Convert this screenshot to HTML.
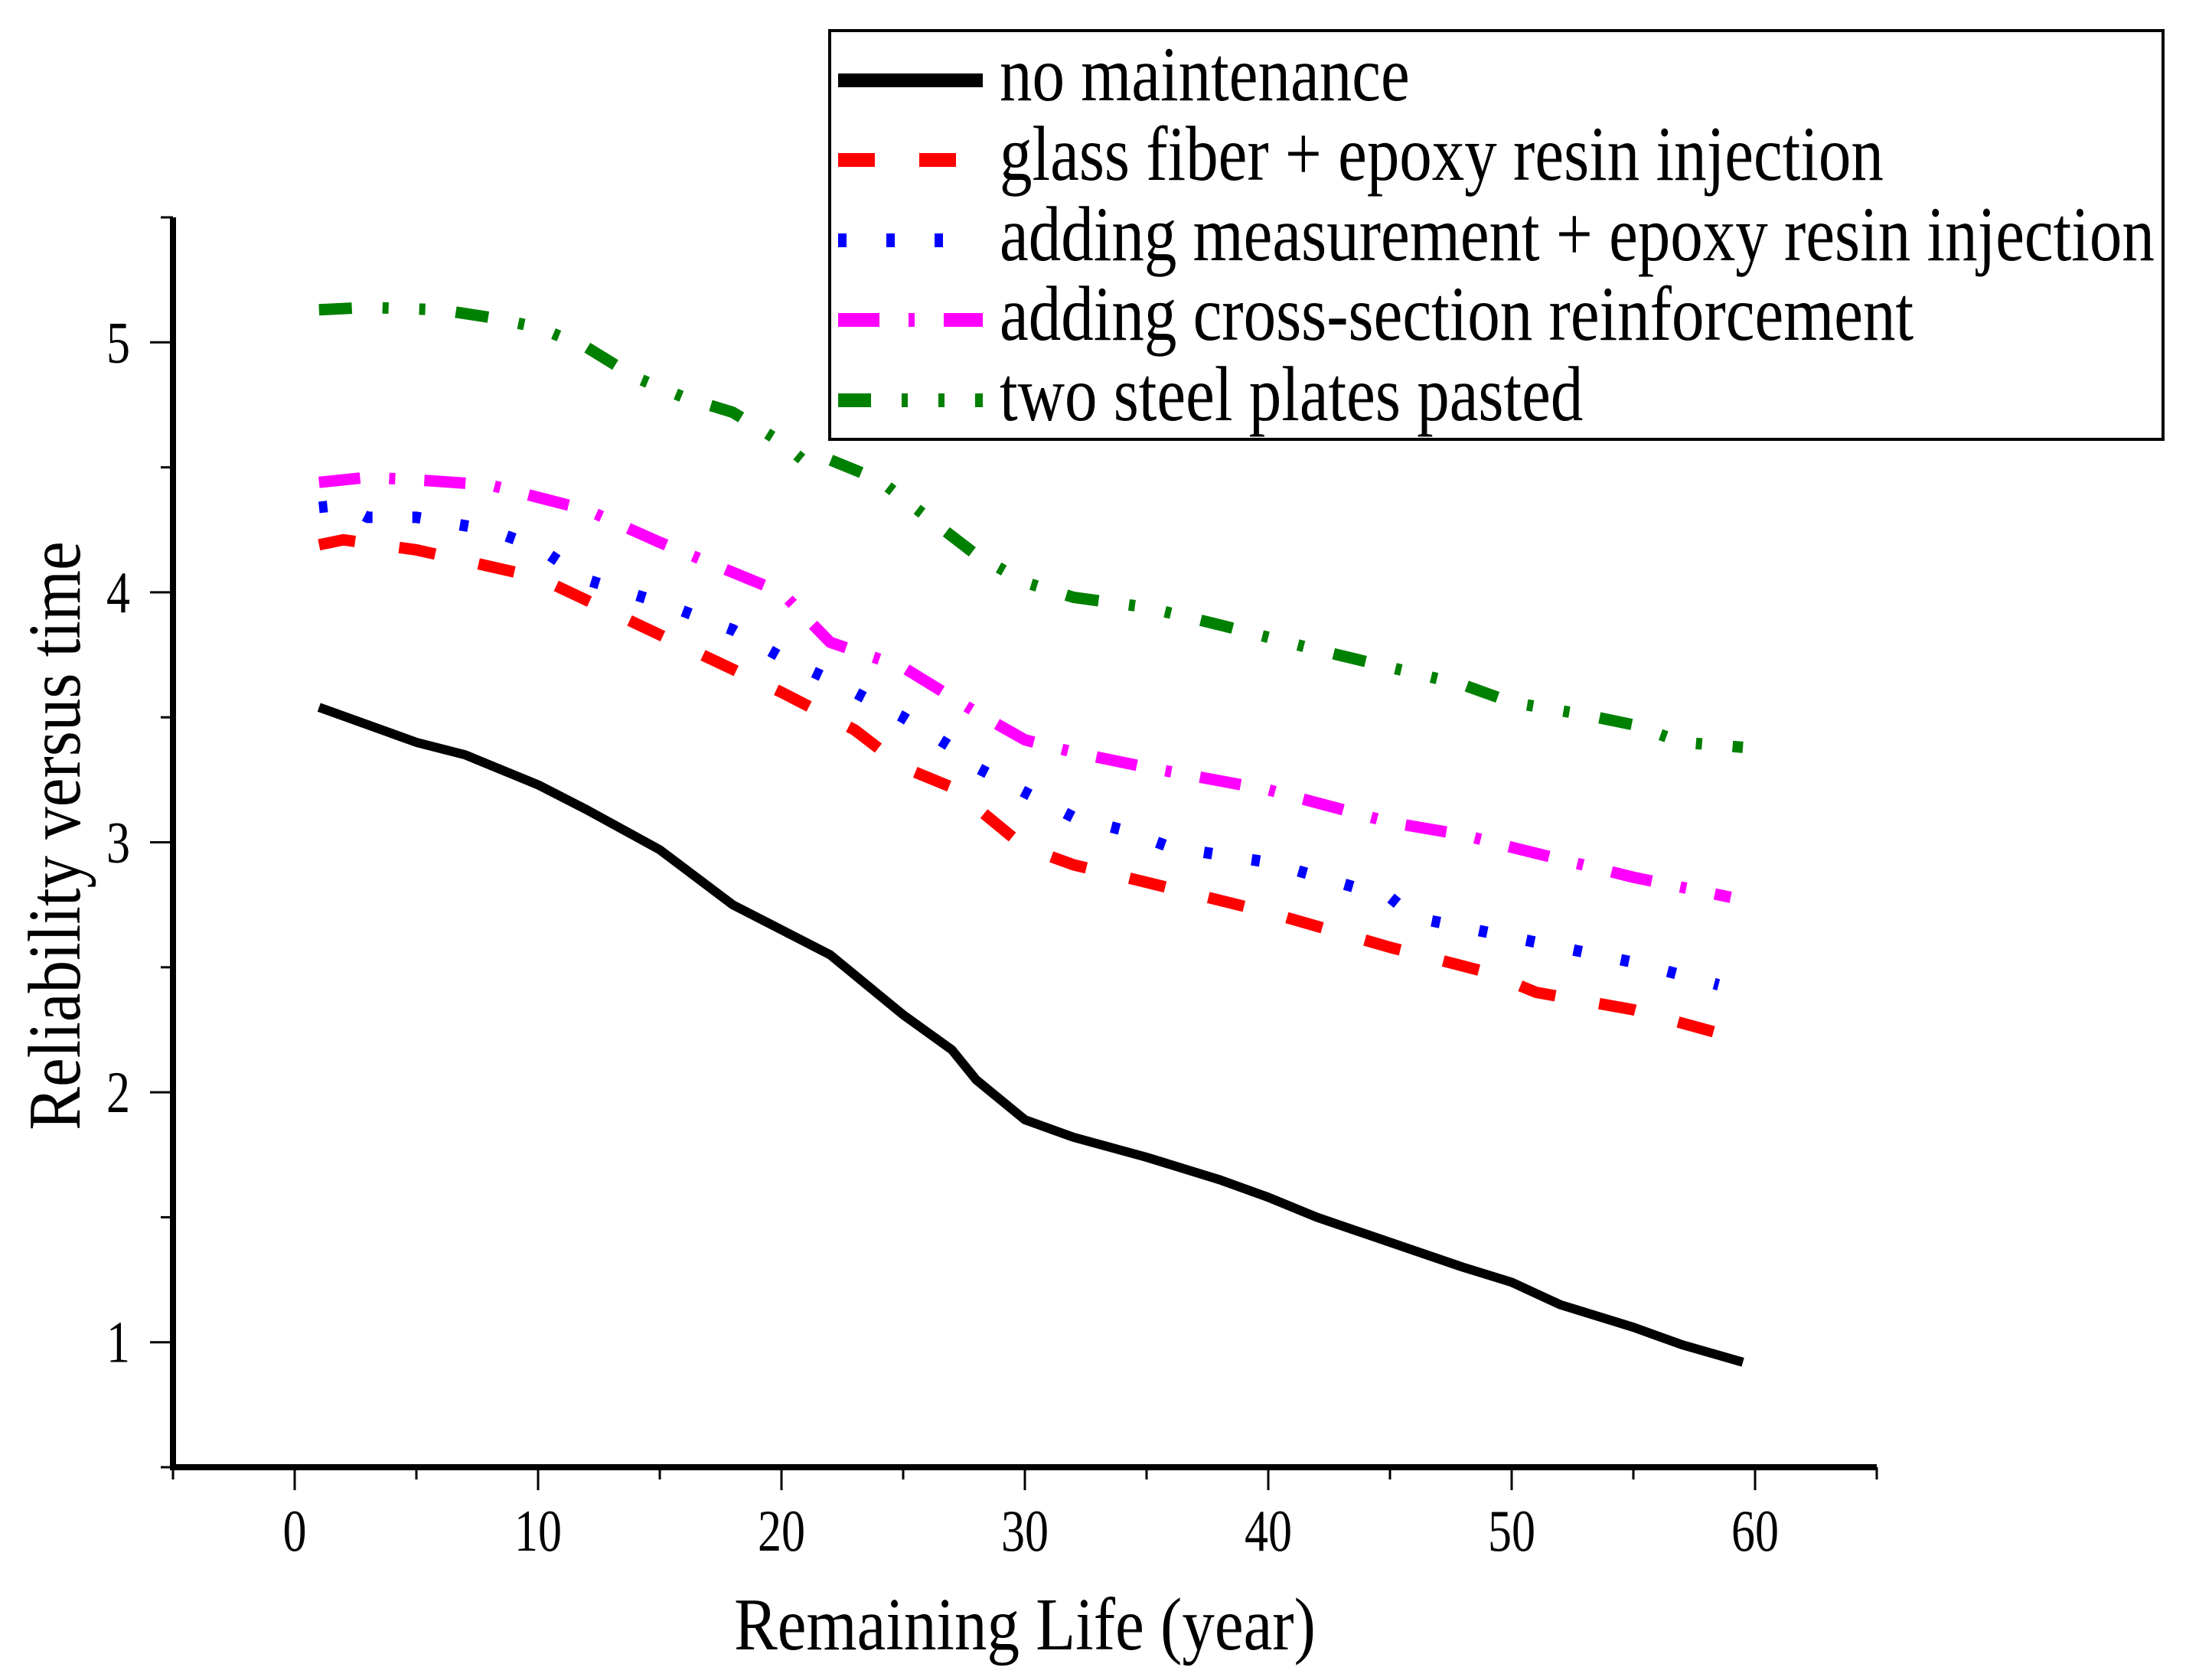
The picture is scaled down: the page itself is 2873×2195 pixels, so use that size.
<!DOCTYPE html>
<html><head><meta charset="utf-8"><style>
html,body{margin:0;padding:0;background:#fff}
svg{display:block}
text{font-family:"Liberation Serif",serif;fill:#000}
</style></head><body>
<svg id="chart" width="2873" height="2195" viewBox="0 0 2873 2195" xmlns="http://www.w3.org/2000/svg">
<g id="axes"></g>
<g id="series"></g>
<g id="legend"></g>
</svg>
<script>
const xTicks = [0,10,20,30,40,50,60];
const yTicks = [1,2,3,4,5];
const seriesNames = ["no maintenance","glass fiber + epoxy resin injection","adding measurement + epoxy resin injection","adding cross-section reinforcement","two steel plates pasted"];
const blackX = [1,5,7,10,12,15,18,20,22,25,27,28,30,32,35,38,40,42,45,48,50,52,55,57,59.5];
const blackY = [3.54,3.40,3.35,3.23,3.13,2.97,2.75,2.65,2.55,2.31,2.17,2.05,1.89,1.82,1.74,1.65,1.58,1.50,1.40,1.30,1.24,1.15,1.06,0.99,0.92];
const redX = [1,2,5,10,15,20,23,25,27,30,32,35,40,45,49,51,55,59.5];
const redY = [4.19,4.21,4.17,4.06,3.83,3.60,3.45,3.30,3.22,2.98,2.91,2.84,2.72,2.58,2.48,2.40,2.33,2.21];
const blueX = [1,2,3,5,8,10,12,15,18,20,22,25,27,28,30,32,34,36,40,45,46,50,55,58.5];
const blueY = [4.34,4.35,4.30,4.30,4.25,4.18,4.05,3.96,3.85,3.74,3.65,3.50,3.38,3.30,3.20,3.10,3.05,2.98,2.92,2.78,2.70,2.62,2.52,2.43];
const magX = [1,3,5,8,10,12,15,18,20,22,25,28,30,32,35,40,45,48,50,55,59];
const magY = [4.44,4.46,4.45,4.43,4.38,4.33,4.20,4.08,4.00,3.80,3.70,3.52,3.41,3.36,3.30,3.21,3.08,3.03,2.98,2.86,2.78];
const greenX = [1,3,6,8,10,12,14,16,18,20,21,22,24,26,28,30,32,35,38,40,42,45,48,50,53,55,57,59.5];
const greenY = [5.13,5.14,5.13,5.10,5.06,4.98,4.86,4.78,4.72,4.60,4.52,4.53,4.45,4.30,4.15,4.04,3.98,3.94,3.87,3.82,3.77,3.70,3.63,3.56,3.51,3.47,3.40,3.38];

const NS="http://www.w3.org/2000/svg";
const X0=226,X1=2452,Y0=1917,Y1=284;
const xMin=-5,xMax=65,yMin=0.5,yMax=5.5;
function sx(v){return X0+(v-xMin)/(xMax-xMin)*(X1-X0);}
function sy(v){return Y0-(v-yMin)/(yMax-yMin)*(Y0-Y1);}
function mk(tag,attrs,parent){const e=document.createElementNS(NS,tag);for(const k in attrs)e.setAttribute(k,attrs[k]);parent.appendChild(e);return e;}
const axes=document.getElementById('axes');
let e;
e=mk('line',{x1:X0,y1:Y1,x2:X0,y2:Y0+4,stroke:'#000','stroke-width':8},axes);


e=mk('line',{x1:X0-4,y1:Y0,x2:X1,y2:Y0,stroke:'#000','stroke-width':8},axes);


for(let v=-5;v<=65;v+=5){
  const major=(v%10===0);
  e=mk('line',{x1:sx(v),y1:Y0,x2:sx(v),y2:Y0+(major?30:16),stroke:'#000','stroke-width':3},axes);
  
  
}
xTicks.forEach(v=>{
  e=mk('text',{x:0,y:0,'font-size':62,'text-anchor':'middle',transform:`translate(${sx(v)},2026) scale(1,1.25)`},axes);
  e.textContent=v;
  
  
});
for(let v=0.5;v<=5.5;v+=0.5){
  const major=Math.abs(v-Math.round(v))<1e-6;
  e=mk('line',{x1:X0,y1:sy(v),x2:X0-(major?30:16),y2:sy(v),stroke:'#000','stroke-width':3},axes);
  
  
}
yTicks.forEach(v=>{
  e=mk('text',{x:0,y:0,'font-size':62,'text-anchor':'end',transform:`translate(170,${sy(v)+26}) scale(1,1.25)`},axes);
  e.textContent=v;
  
  
});
e=mk('text',{x:0,y:0,'font-size':85,'text-anchor':'middle',transform:'translate(1339,2155) scale(1,1.15)'},axes);
e.textContent='Remaining Life (year)';


e=mk('text',{x:0,y:0,'font-size':85,'text-anchor':'middle',transform:'translate(104,1092) rotate(-90) scale(1,1.15)'},axes);
e.textContent='Reliability versus time';



const styles=[
 {c:'#000000',d:'',n:'no-maintenance-line'},
 {c:'#ff0000',d:'48 58',n:'glass-fiber-line'},
 {c:'#0000ff',d:'11 52',n:'adding-measurement-line'},
 {c:'#ff00ff',d:'54 38 8 38',n:'cross-section-line'},
 {c:'#008000',d:'43 40 8 40 8 40',n:'steel-plates-line'}
];
const data=[[blackX,blackY],[redX,redY],[blueX,blueY],[magX,magY],[greenX,greenY]];
const sg=document.getElementById('series');
data.forEach((s,i)=>{
  const pts=s[0].map((x,j)=>sx(x).toFixed(1)+','+sy(s[1][j]).toFixed(1)).join(' ');
  const p=mk('polyline',{points:pts,fill:'none',stroke:styles[i].c,'stroke-width':i===0?12:15,'stroke-linejoin':'round'},sg);
  if(styles[i].d)p.setAttribute('stroke-dasharray',styles[i].d);
  
  
});

const lg=document.getElementById('legend');
e=mk('rect',{x:1084,y:40,width:1742,height:534,fill:'#fff',stroke:'#000','stroke-width':4},lg);


const rows=[105,209,314,418,523];
seriesNames.forEach((nm,i)=>{
  const g=mk('g',{},lg);
  
  
  const l=mk('line',{x1:1095,y1:rows[i],x2:1284,y2:rows[i],stroke:styles[i].c,'stroke-width':18},g);
  if(styles[i].d)l.setAttribute('stroke-dasharray',styles[i].d);
  
  
  const t=mk('text',{x:0,y:0,'font-size':85,transform:`translate(1306,${rows[i]+26}) scale(1,1.2)`},g);
  t.textContent=nm;
  
  
});
</script>
</body></html>
